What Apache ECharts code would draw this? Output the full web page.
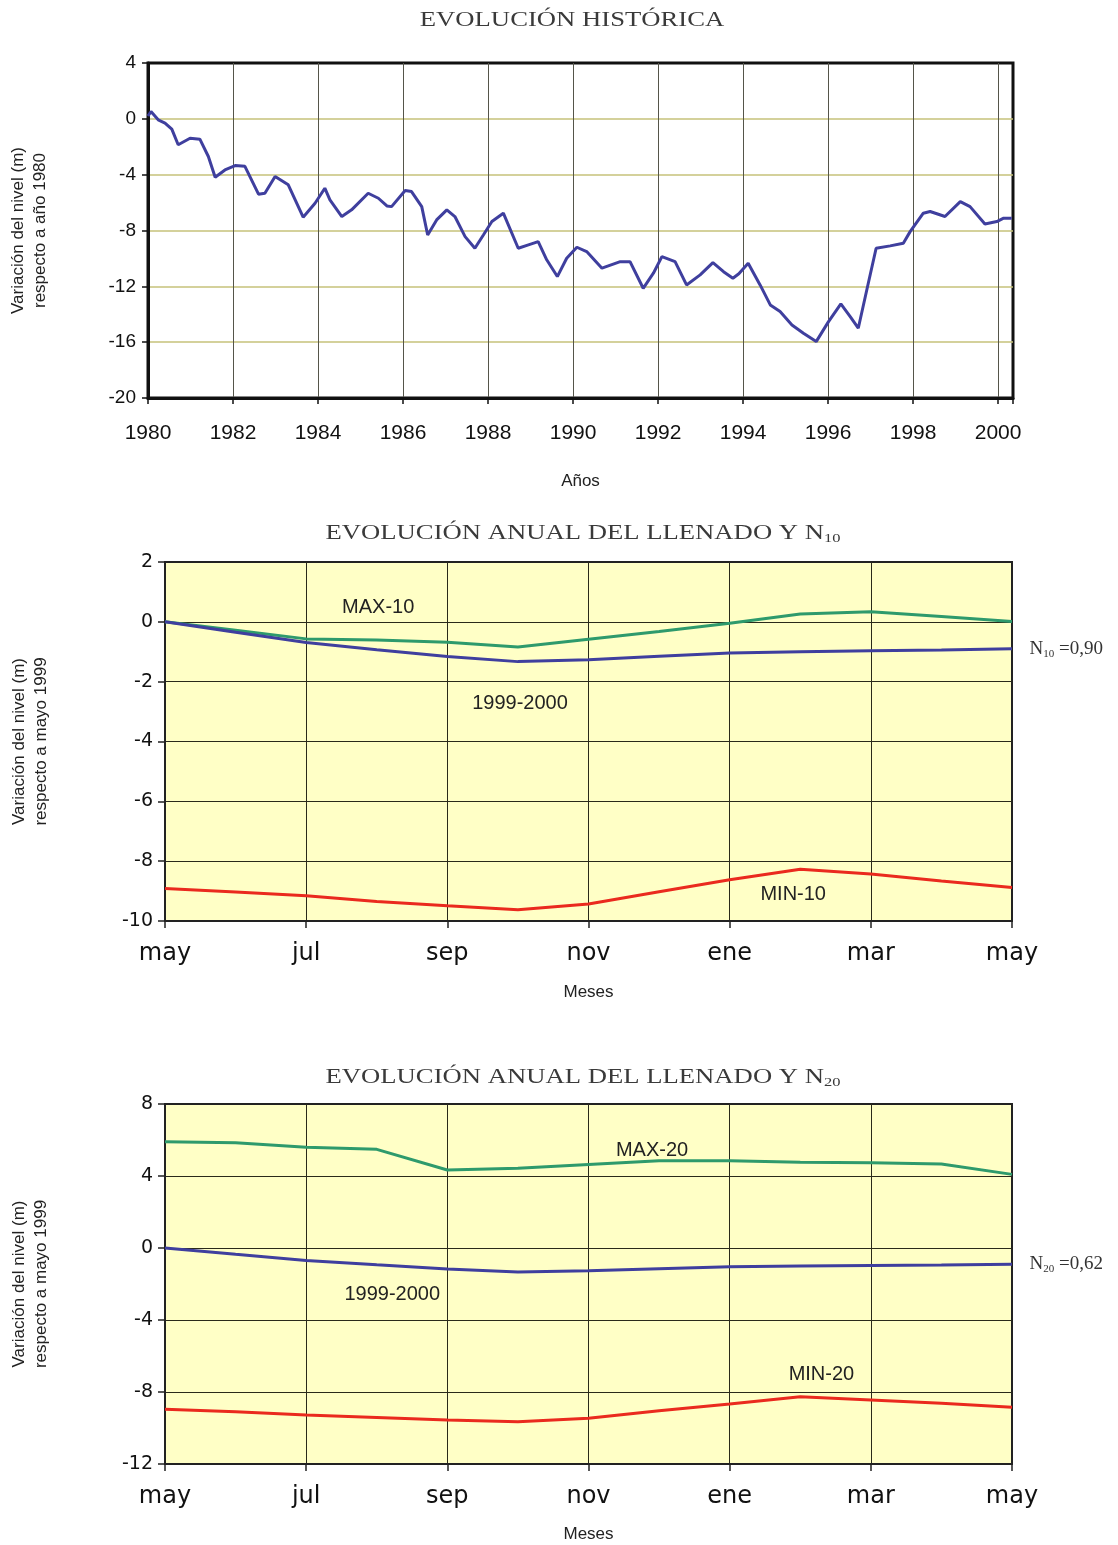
<!DOCTYPE html>
<html><head><meta charset="utf-8">
<script src="https://cdn.jsdelivr.net/npm/echarts@6/dist/echarts.min.js"></script>
<style>html,body{margin:0;padding:0;background:#fff}#c{width:1118px;height:1545px}</style>
</head><body><div id="c"></div><script>
// ---- Historical evolution (top) ----
const histYears = [1980.00,1980.07,1980.24,1980.40,1980.56,1980.71,1980.99,1981.22,1981.42,1981.58,1981.81,1982.05,1982.28,1982.60,1982.75,1982.99,1983.30,1983.65,1983.93,1984.16,1984.28,1984.56,1984.79,1985.18,1985.42,1985.62,1985.73,1986.05,1986.20,1986.44,1986.58,1986.79,1987.03,1987.22,1987.46,1987.69,1987.89,1988.09,1988.36,1988.71,1988.95,1989.18,1989.38,1989.63,1989.85,1990.09,1990.32,1990.68,1991.11,1991.34,1991.65,1991.89,1992.09,1992.40,1992.67,1992.99,1993.29,1993.54,1993.76,1993.90,1994.12,1994.40,1994.64,1994.87,1995.15,1995.42,1995.72,1996.01,1996.30,1996.52,1996.71,1996.91,1997.13,1997.46,1997.77,1997.93,1998.24,1998.40,1998.75,1999.11,1999.34,1999.69,1999.97,2000.13,2000.32];
const histLevels = [0.2,0.52,-0.07,-0.3,-0.74,-1.86,-1.39,-1.46,-2.7,-4.18,-3.66,-3.35,-3.4,-5.4,-5.33,-4.13,-4.73,-7.05,-6.05,-4.97,-5.81,-7.0,-6.52,-5.33,-5.69,-6.24,-6.29,-5.14,-5.21,-6.29,-8.32,-7.24,-6.52,-7.0,-8.44,-9.27,-8.32,-7.36,-6.76,-9.27,-9.03,-8.8,-10.1,-11.3,-9.99,-9.2,-9.51,-10.7,-10.23,-10.23,-12.14,-11.06,-9.87,-10.23,-11.9,-11.18,-10.3,-10.95,-11.42,-11.1,-10.34,-11.9,-13.33,-13.81,-14.77,-15.36,-15.96,-14.53,-13.26,-14.17,-15.0,-12.26,-9.27,-9.1,-8.91,-8.08,-6.76,-6.64,-7.0,-5.93,-6.29,-7.53,-7.36,-7.12,-7.12];
const yearTicks = [1980,1982,1984,1986,1988,1990,1992,1994,1996,1998,2000];

// ---- Annual evolution (monthly, may 1999 .. may 2000) ----
const months = ['may','jun','jul','ago','sep','oct','nov','dic','ene','feb','mar','abr','may'];
const monthTicks = ['may','jul','sep','nov','ene','mar','may'];
const nivel9900 = [0,-0.35,-0.69,-0.93,-1.16,-1.33,-1.27,-1.15,-1.04,-1.0,-0.97,-0.94,-0.9];
const max10 = [0,-0.28,-0.57,-0.61,-0.68,-0.84,-0.58,-0.32,-0.05,0.26,0.34,0.18,0.01];
const min10 = [-8.91,-9.03,-9.16,-9.35,-9.49,-9.62,-9.43,-9.02,-8.62,-8.27,-8.43,-8.66,-8.88];
const max20 = [5.9,5.85,5.6,5.48,4.33,4.43,4.64,4.85,4.85,4.77,4.74,4.67,4.09];
const min20 = [-8.96,-9.1,-9.28,-9.42,-9.56,-9.65,-9.46,-9.04,-8.67,-8.26,-8.44,-8.63,-8.85];
const N10 = '0,90', N20 = '0,62';

const C_BLUE = '#3F3F9E', C_GREEN = '#2E9A6C', C_RED = '#EA2A1E';
const SANS = '"Liberation Sans", Arial, sans-serif';
const SERIF = '"Liberation Serif", "Times New Roman", serif';
const WIDE = '"DejaVu Sans", Verdana, sans-serif';

const chart = echarts.init(document.getElementById('c'), null, {renderer:'canvas'});
const pairs = (arr) => arr.map((v,i)=>[i,v]);

function tagPoint(x, y, text) {
  return {coord:[x,y], name:text};
}
const tagMP = (items) => ({
  symbol:'circle', symbolSize:1, itemStyle:{color:'rgba(0,0,0,0)'},
  label:{show:true, position:'inside', formatter:'{b}', fontFamily:SANS, fontSize:20, color:'#222'},
  data: items
});
const nMP = (x, y, sub, val) => ({
  symbol:'circle', symbolSize:1, itemStyle:{color:'rgba(0,0,0,0)'},
  label:{show:true, position:'right', distance:17,
    formatter:'{n|N}{s|'+sub+'}{n| =' + val + '}',
    rich:{n:{fontFamily:SERIF, fontSize:19, color:'#333', lineHeight:24},
          s:{fontFamily:SERIF, fontSize:11, color:'#333', lineHeight:24, padding:[10,0,0,0]}}},
  data:[{coord:[x,y], name:'n'}]
});

const monthX = (gi, gap) => ({
  gridIndex:gi, type:'value', min:0, max:12, interval:2,
  axisLine:{show:true, onZero:false, lineStyle:{color:'#222', width:2}},
  axisTick:{show:true, length:7, lineStyle:{color:'#222', width:1.5}},
  axisLabel:{formatter:(v)=>monthTicks[Math.round(v/2)], fontFamily:WIDE, fontSize:24, color:'#111', margin:21},
  splitLine:{show:true, showMinLine:false, showMaxLine:false, lineStyle:{color:'#2a2a1a', width:1}},
  name:'Meses', nameLocation:'middle', nameGap:gap,
  nameTextStyle:{fontFamily:SANS, fontSize:17, color:'#222'}
});
const levelY = (gi, min, max, step) => ({
  gridIndex:gi, type:'value', min:min, max:max, interval:step,
  axisLine:{show:true, lineStyle:{color:'#222', width:2}},
  axisTick:{show:true, length:7, lineStyle:{color:'#222', width:1.5}},
  axisLabel:{fontFamily:WIDE, fontSize:19, color:'#111', margin:12},
  splitLine:{show:true, showMinLine:false, showMaxLine:false, lineStyle:{color:'#2a2a1a', width:1}},
  name:'Variación del nivel (m)\nrespecto a mayo 1999', nameLocation:'middle', nameRotate:90, nameGap:113,
  nameTextStyle:{fontFamily:SANS, fontSize:17, color:'#222', lineHeight:22}
});
const lineS = (xi, data, color, extra) => Object.assign({
  type:'line', xAxisIndex:xi, yAxisIndex:xi, data:pairs(data), symbol:'none',
  lineStyle:{color:color, width:3}, itemStyle:{color:color}, z:3
}, extra||{});

const titleText = (x, y, main, sub) => ({
  type:'text', x:x, y:y, scaleX:1.27, z:10,
  style:{
    text: sub ? '{t|'+main+'}{s|'+sub+'}' : '{t|'+main+'}',
    rich:{t:{fontFamily:SERIF, fontSize:21, fill:'#3a3a3a', lineHeight:26},
          s:{fontFamily:SERIF, fontSize:13, fill:'#3a3a3a', lineHeight:26, padding:[12,0,0,0]}},
    align:'center', verticalAlign:'middle'
  }
});

chart.setOption({
  animation:false,
  backgroundColor:'#fff',
  graphic:[
    titleText(572, 20, 'EVOLUCIÓN HISTÓRICA'),
    titleText(583, 533, 'EVOLUCIÓN ANUAL DEL LLENADO Y N', '10'),
    titleText(583, 1077, 'EVOLUCIÓN ANUAL DEL LLENADO Y N', '20')
  ],
  grid:[
    {left:148, top:63, width:865, height:335, show:true, borderColor:'#111', borderWidth:3, backgroundColor:'#fff', outerBoundsMode:'none'},
    {left:165, top:562, width:847, height:359, show:true, borderColor:'#222', borderWidth:2, backgroundColor:'#FFFFC6', outerBoundsMode:'none'},
    {left:165, top:1104, width:847, height:360, show:true, borderColor:'#222', borderWidth:2, backgroundColor:'#FFFFC6', outerBoundsMode:'none'}
  ],
  xAxis:[
    {gridIndex:0, type:'value', min:1980, max:2000.35, interval:2,
     axisLine:{show:true, onZero:false, lineStyle:{color:'#111', width:3}},
     axisTick:{show:true, length:6, lineStyle:{color:'#111', width:1.5}},
     axisLabel:{formatter:(v)=> yearTicks.indexOf(Math.round(v*100)/100) >= 0 ? String(v) : '',
       fontFamily:SANS, fontSize:21, color:'#111', margin:25},
     splitLine:{show:true, showMinLine:false, showMaxLine:false, lineStyle:{color:'#55554a', width:1}},
     name:'Años', nameLocation:'middle', nameGap:75,
     nameTextStyle:{fontFamily:SANS, fontSize:17, color:'#222'}},
    monthX(1, 63), monthX(2, 62)
  ],
  yAxis:[
    {gridIndex:0, type:'value', min:-20, max:4, interval:4,
     axisLine:{show:true, lineStyle:{color:'#111', width:3}},
     axisTick:{show:true, length:6, lineStyle:{color:'#111', width:1.5}},
     axisLabel:{fontFamily:SANS, fontSize:19, color:'#111', margin:12},
     splitLine:{show:true, showMinLine:false, showMaxLine:false, lineStyle:{color:'#c6c27a', width:1.5}},
     name:'Variación del nivel (m)\nrespecto a año 1980', nameLocation:'middle', nameRotate:90, nameGap:97,
     nameTextStyle:{fontFamily:SANS, fontSize:17, color:'#222', lineHeight:22}},
    levelY(1, -10, 2, 2), levelY(2, -12, 8, 4)
  ],
  series:[
    {type:'line', xAxisIndex:0, yAxisIndex:0, data:histYears.map((y,i)=>[y,histLevels[i]]),
     symbol:'none', lineStyle:{color:C_BLUE, width:3}, itemStyle:{color:C_BLUE}},
    lineS(1, max10, C_GREEN, {markPoint:tagMP([tagPoint(3.02, 0.47, 'MAX-10')])}),
    lineS(1, nivel9900, C_BLUE, {markPoint:tagMP([tagPoint(5.03, -2.73, '1999-2000')])}),
    lineS(1, min10, C_RED, {markPoint:tagMP([tagPoint(8.9, -9.1, 'MIN-10')])}),
    lineS(2, max20, C_GREEN, {markPoint:tagMP([tagPoint(6.9, 5.44, 'MAX-20')])}),
    lineS(2, nivel9900, C_BLUE, {markPoint:tagMP([tagPoint(3.22, -2.56, '1999-2000')])}),
    lineS(2, min20, C_RED, {markPoint:tagMP([tagPoint(9.3, -7.0, 'MIN-20')])}),
    // N labels at the right end of 1999-2000 lines
    {type:'line', xAxisIndex:1, yAxisIndex:1, data:[], markPoint:nMP(12, nivel9900[12], '10', N10)},
    {type:'line', xAxisIndex:2, yAxisIndex:2, data:[], markPoint:nMP(12, nivel9900[12], '20', N20)}
  ]
});
</script></body></html>
